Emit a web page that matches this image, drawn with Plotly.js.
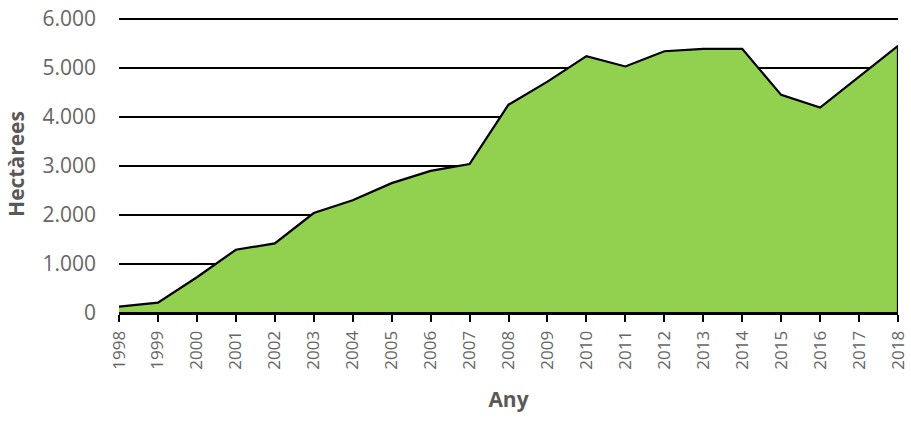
<!DOCTYPE html>
<html>
<head>
<meta charset="utf-8">
<script src="https://cdn.plot.ly/plotly-3.0.1.min.js"></script>
<style>html,body{margin:0;padding:0;background:#fff;}#chart{width:911px;height:421px;}</style>
</head>
<body>
<div id="chart"></div>
<script>
const years = [1998,1999,2000,2001,2002,2003,2004,2005,2006,2007,2008,2009,2010,2011,2012,2013,2014,2015,2016,2017,2018];
const hectares = [130,210,730,1290,1420,2040,2300,2650,2900,3040,4250,4720,5240,5030,5340,5390,5390,4450,4190,4820,5450];
const yTicks = [0,1000,2000,3000,4000,5000,6000];

// closed outline: data points, then down to the baseline and back
const polyX = years.concat([years[years.length-1], years[0]]);
const polyY = hectares.concat([0, 0]);

const trace = {
  x: polyX, y: polyY, type: 'scatter', mode: 'lines',
  fill: 'toself', fillcolor: '#92D050',
  line: {color: '#000000', width: 2.2},
  hoverinfo: 'skip', showlegend: false
};

const layout = {
  width: 911, height: 421,
  margin: {l: 119, r: 13, t: 15, b: 108},
  paper_bgcolor: '#ffffff', plot_bgcolor: '#ffffff',
  separators: ',.',
  font: {family: 'Open Sans, sans-serif', color: '#595959'},
  xaxis: {
    range: [1998, 2018], tickvals: years, ticktext: years.map(String),
    tickangle: -90, ticks: 'outside', ticklen: 7, tickwidth: 2, tickcolor: '#000',
    showline: true, linecolor: '#000', linewidth: 2,
    showgrid: false, zeroline: false,
    ticklabelstandoff: 2,
    tickfont: {size: 17, color: '#666666'},
    title: {text: 'Any', font: {size: 21, color: '#595959', weight: 'bold'}, standoff: 24}
  },
  yaxis: {
    range: [0, 6080], tickvals: yTicks, tickformat: ',d',
    showgrid: true, gridcolor: '#000', gridwidth: 2.2,
    zeroline: false, showline: false, ticks: '',
    ticklabelstandoff: 22,
    tickfont: {size: 21, color: '#666666'},
    title: {text: 'Hectàrees', font: {size: 21, color: '#595959', weight: 'bold'}, standoff: 12}
  }
};

Plotly.newPlot('chart', [trace], layout, {displayModeBar: false, staticPlot: true});
</script>
</body>
</html>
